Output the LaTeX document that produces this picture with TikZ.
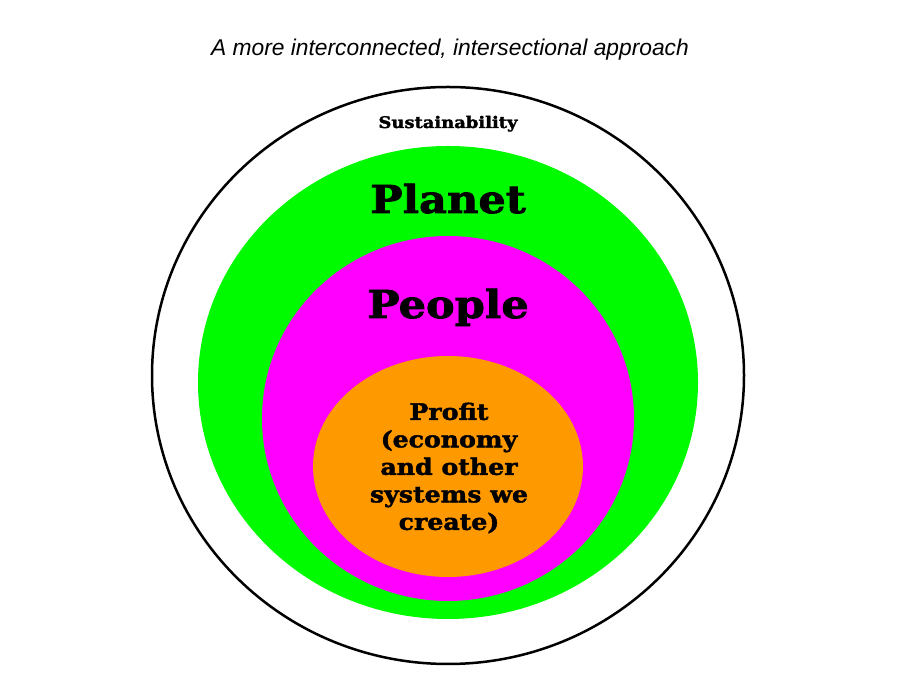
\documentclass[tikz,border=0pt]{standalone}
\usepackage{fontspec}
\setmainfont{Liberation Sans}
\newfontfamily\slabfont{DejaVu Serif}[BoldFeatures={FakeBold=2,FakeStretch=1.12}]
\definecolor{vert}{RGB}{0,250,0}
\definecolor{rose}{RGB}{255,0,255}
\definecolor{orange}{RGB}{255,153,0}
\begin{document}
\begin{tikzpicture}[x=1pt,y=1pt]
            \tikzstyle{mot}=[inner sep=0pt,text=black,align=center]
            \tikzset{gros/.style = {mot,font=\slabfont\bfseries\fontsize{38.5}{44}\selectfont}}
            \useasboundingbox (0,0) rectangle (900,685);
            \fill[white] (0,0) rectangle (900,685);
            \draw[line width=2.5pt] (448,309.5) ellipse [x radius=296,y radius=288.5];
            \fill[vert] (448,302.5) ellipse [x radius=250,y radius=236.5];
            \fill[rose] (448,266.5) ellipse [x radius=186,y radius=182.5];
            \fill[orange] (448,218.5) ellipse [x radius=135,y radius=110.5];
            \node[mot,font=\itshape\fontsize{22.8}{26}\selectfont] (titre) at (450,635) {A more interconnected, intersectional approach};
            \node[mot,anchor=base,font=\slabfont\bfseries\fontsize{16}{18}\selectfont] (durable) at (448,557) {Sustainability};
            \node[gros,anchor=base] (planete) at (448,472) {Planet};
            \node[gros,anchor=base] (gens) at (448,367) {People};
            \node[mot,font=\slabfont\bfseries\fontsize{22.5}{27.5}\selectfont] (profit) at (449,217) {Profit\\(economy\\and other\\systems we\\create)};
\end{tikzpicture}
\end{document}
